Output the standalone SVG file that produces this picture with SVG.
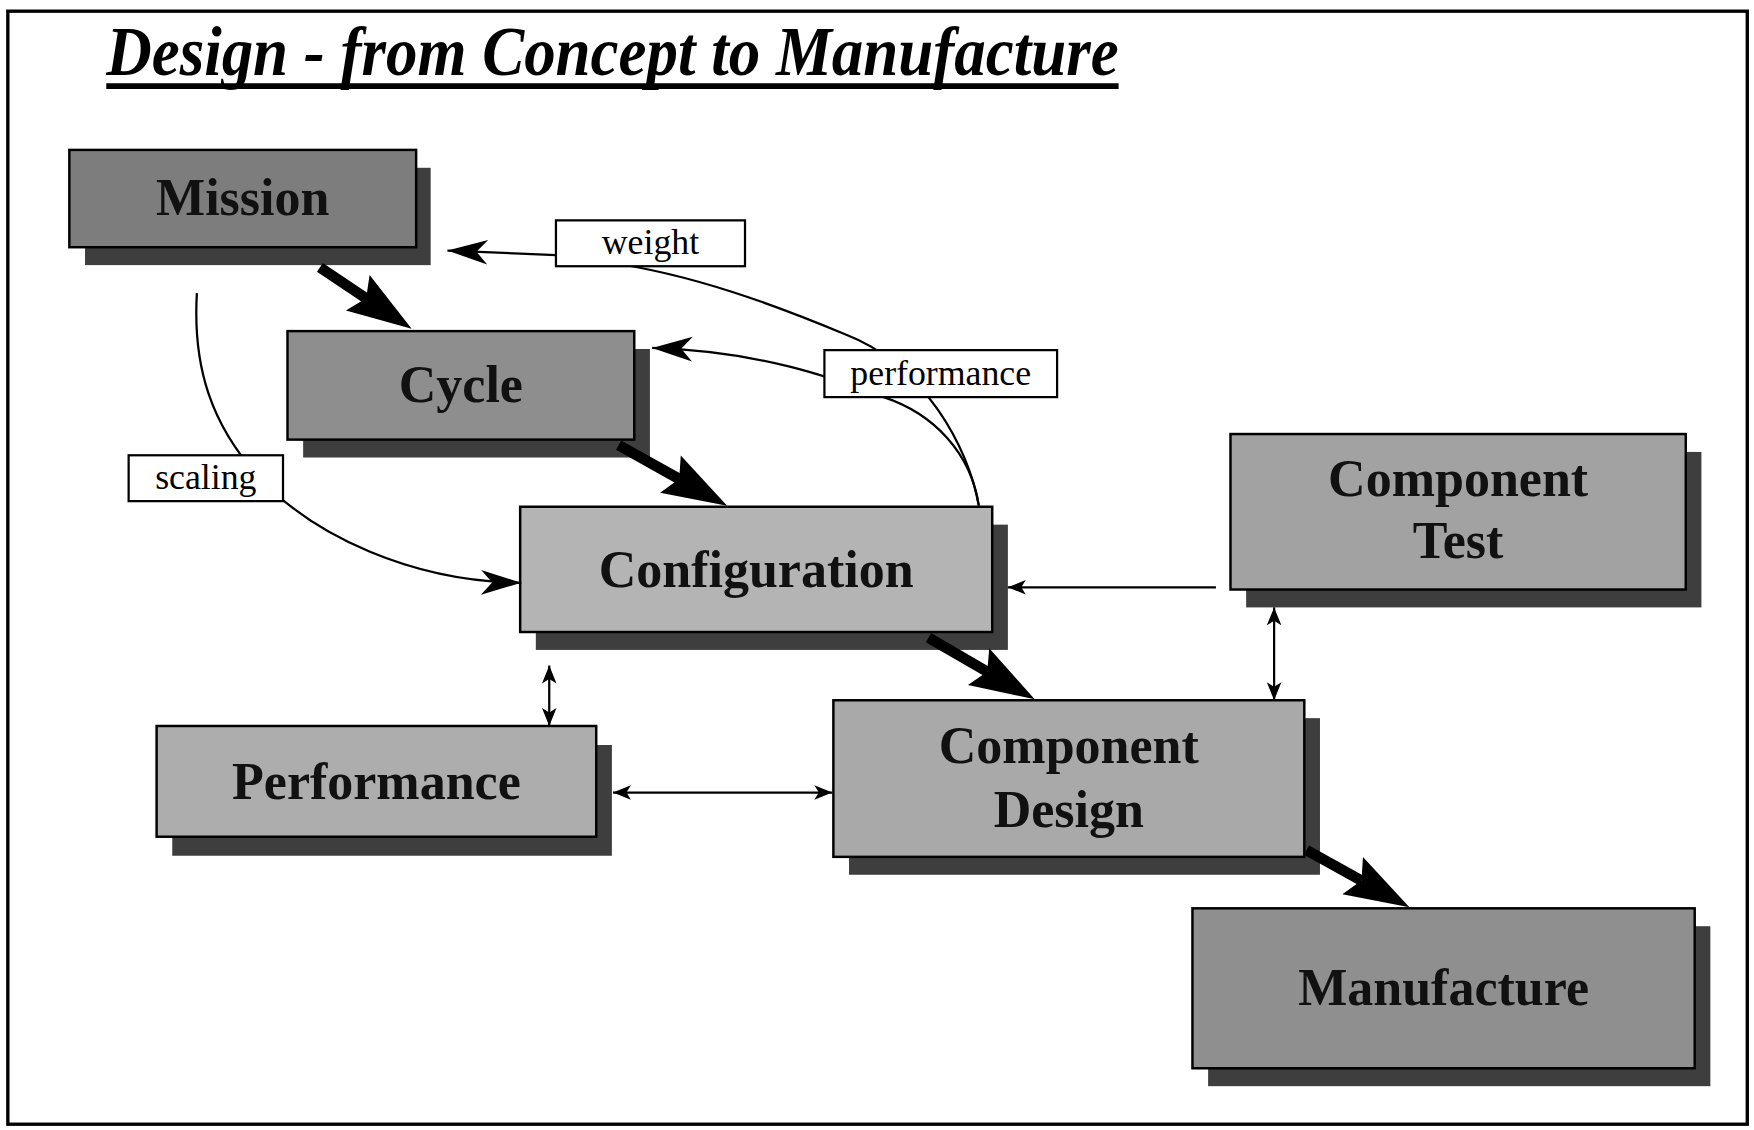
<svg xmlns="http://www.w3.org/2000/svg" width="1754" height="1130" viewBox="0 0 1754 1130">
<style>
.box{stroke:#000;stroke-width:2.2}
.shadow{fill:#3e3e3e}
.nt{font-family:"Liberation Serif","Times New Roman",serif;font-weight:bold;font-size:46.5px;fill:#111;text-anchor:middle}
.lbl{fill:#fff;stroke:#000;stroke-width:2}
.lt{font-family:"Liberation Serif","Times New Roman",serif;font-size:32px;fill:#000;text-anchor:middle}
.thick{fill:none;stroke:#000;stroke-width:9.5}
.thin{fill:none;stroke:#000;stroke-width:2}
</style>
<defs>
<marker id="bigHead" markerUnits="userSpaceOnUse" viewBox="-60 -21 62 42" markerWidth="62" markerHeight="42" refX="-49" refY="0" orient="auto">
<path d="M0,0 L-58,-19 L-49,0 L-58,19 Z" fill="#000"/>
</marker>
<marker id="midHead" markerUnits="userSpaceOnUse" viewBox="-38 -13 40 26" markerWidth="40" markerHeight="26" refX="0" refY="0" orient="auto">
<path d="M0,0 L-36,-11 L-26,0 L-36,11 Z" fill="#000"/>
</marker>
<marker id="smallHead" markerUnits="userSpaceOnUse" viewBox="-18 -8 20 16" markerWidth="20" markerHeight="16" refX="0" refY="0" orient="auto-start-reverse">
<path d="M0,0 L-16,-6.5 L-12,0 L-16,6.5 Z" fill="#000"/>
</marker>
</defs>
<rect x="0" y="0" width="1754" height="1130" fill="#fff"/>
<g transform="scale(1.11862)">
<rect id="frame" x="7" y="10" width="1555" height="995" fill="none" stroke="#000" stroke-width="3"/>
<g id="title">
<text x="95" y="67" font-family="'Liberation Serif','Times New Roman',serif" font-weight="bold" font-style="italic" font-size="63" textLength="905" lengthAdjust="spacingAndGlyphs" fill="#000">Design - from Concept to Manufacture</text>
<line x1="95" y1="77" x2="1000" y2="77" stroke="#000" stroke-width="5"/>
</g>

<g id="node-mission">
<rect class="shadow" x="76" y="150" width="309" height="87"/>
<rect class="box" x="62" y="134" width="310" height="87" fill="#7d7d7d"/>
<text class="nt" x="217" y="192">Mission</text>
</g>
<g id="node-cycle">
<rect class="shadow" x="271" y="312" width="310" height="97"/>
<rect class="box" x="257" y="296" width="310" height="97" fill="#8e8e8e"/>
<text class="nt" x="412" y="359">Cycle</text>
</g>
<g id="node-configuration">
<rect class="shadow" x="479" y="469" width="422" height="112"/>
<rect class="box" x="465" y="453" width="422" height="112" fill="#b4b4b4"/>
<text class="nt" x="676" y="525">Configuration</text>
</g>
<g id="node-performance">
<rect class="shadow" x="154" y="666" width="393" height="99"/>
<rect class="box" x="140" y="649" width="393" height="99" fill="#adadad"/>
<text class="nt" x="336.5" y="714">Performance</text>
</g>
<g id="node-component-design">
<rect class="shadow" x="759" y="642" width="421" height="140"/>
<rect class="box" x="745" y="626" width="421" height="140" fill="#a9a9a9"/>
<text class="nt" x="955.5" y="682">Component</text>
<text class="nt" x="955.5" y="739">Design</text>
</g>
<g id="node-component-test">
<rect class="shadow" x="1114" y="404" width="407" height="139"/>
<rect class="box" x="1100" y="388" width="407" height="139" fill="#a2a2a2"/>
<text class="nt" x="1303.5" y="443">Component</text>
<text class="nt" x="1303.5" y="499">Test</text>
</g>
<g id="node-manufacture">
<rect class="shadow" x="1080" y="828" width="449" height="143"/>
<rect class="box" x="1066" y="812" width="449" height="143" fill="#8f8f8f"/>
<text class="nt" x="1290.5" y="898">Manufacture</text>
</g>

<g id="connectors">
<line class="thick" x1="286" y1="239" x2="327.3" y2="266.7" marker-end="url(#bigHead)"/>
<line class="thick" x1="553" y1="398" x2="607.2" y2="428.2" marker-end="url(#bigHead)"/>
<line class="thick" x1="830" y1="570" x2="882.6" y2="600.5" marker-end="url(#bigHead)"/>
<line class="thick" x1="1168" y1="760" x2="1217.1" y2="787.2" marker-end="url(#bigHead)"/>

<path class="thin" d="M875,452 C866,400 826,326 756,299 C696,274 620,245 540,234 L497,228 L400,224" marker-end="url(#midHead)"/>
<path class="thin" d="M875,452 C868,405 835,370 790,355 C745,338 680,314 583,311" marker-end="url(#midHead)"/>
<path class="thin" d="M176,262 C172,330 190,380 230,425 C280,480 370,520 466,521" marker-end="url(#midHead)"/>

<line class="thin" x1="1087" y1="525" x2="901" y2="525" marker-end="url(#smallHead)"/>
<line class="thin" x1="491" y1="595" x2="491" y2="649" marker-start="url(#smallHead)" marker-end="url(#smallHead)"/>
<line class="thin" x1="548" y1="708.5" x2="744" y2="708.5" marker-start="url(#smallHead)" marker-end="url(#smallHead)"/>
<line class="thin" x1="1139" y1="543" x2="1139" y2="626" marker-start="url(#smallHead)" marker-end="url(#smallHead)"/>
</g>

<g id="label-weight">
<rect class="lbl" x="497" y="197" width="169" height="41"/>
<text class="lt" x="581.5" y="227">weight</text>
</g>
<g id="label-performance">
<rect class="lbl" x="737" y="313" width="208" height="42"/>
<text class="lt" x="841" y="344">performance</text>
</g>
<g id="label-scaling">
<rect class="lbl" x="115" y="407" width="138" height="41"/>
<text class="lt" x="184" y="437">scaling</text>
</g>
</g>
</svg>
